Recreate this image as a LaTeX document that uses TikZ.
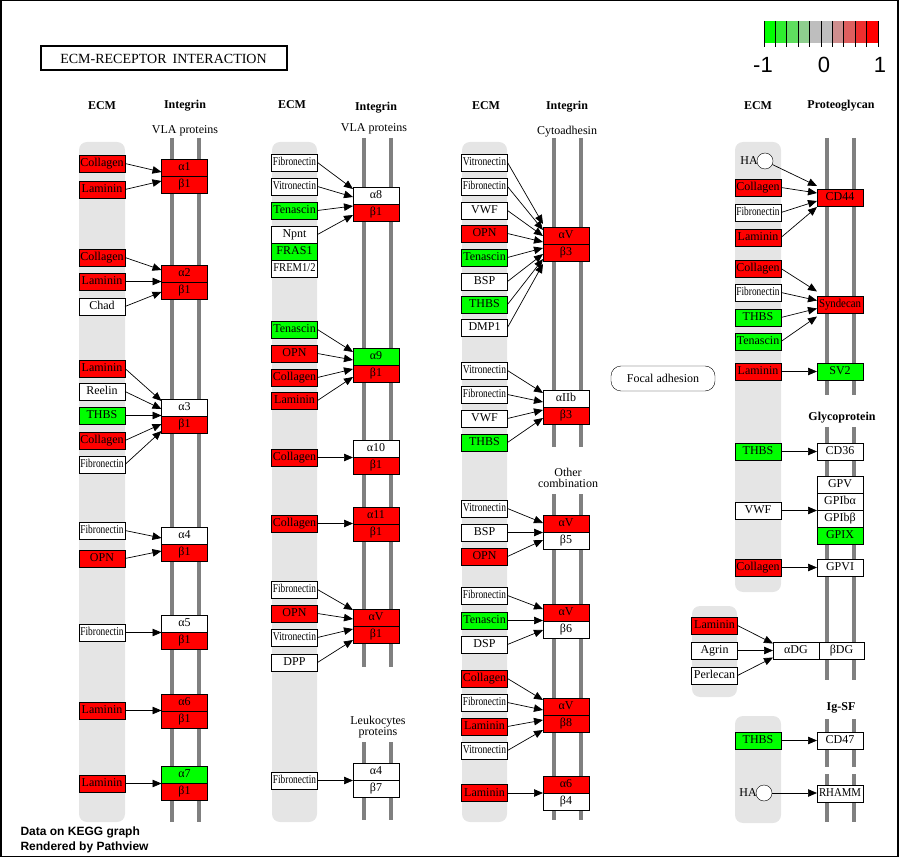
\documentclass[tikz,border=0pt]{standalone}
\usepackage{fontspec}
\setmainfont{Liberation Serif}
\setsansfont{Liberation Sans}
\usepackage{tikz}
\usetikzlibrary{arrows.meta, positioning, calc}

\definecolor{kred}{RGB}{255,0,0}
\definecolor{kgreen}{RGB}{0,255,0}
\definecolor{lanegray}{RGB}{229,229,229}
\definecolor{memgray}{RGB}{128,128,128}
\definecolor{lg1}{RGB}{0,255,0}
\definecolor{lg2}{RGB}{47,238,47}
\definecolor{lg3}{RGB}{95,222,95}
\definecolor{lg4}{RGB}{142,206,142}
\definecolor{lg5}{RGB}{190,190,190}
\definecolor{lg6}{RGB}{190,190,190}
\definecolor{lg7}{RGB}{206,142,142}
\definecolor{lg8}{RGB}{222,95,95}
\definecolor{lg9}{RGB}{238,47,47}
\definecolor{lg10}{RGB}{255,0,0}

\newcommand{\genefont}{\fontsize{12}{12}\selectfont}
\newcommand{\cond}[2][0.78]{\scalebox{#1}[1]{#2}}

\begin{document}
\begin{tikzpicture}[
        x=1pt, y=-1pt,
        gene/.style={rectangle, draw, fill=white, minimum width=46pt, minimum height=17pt,
                inner sep=0pt, outer sep=0pt, text height=8.5pt, text depth=2.5pt, font=\genefont},
        upgene/.style={gene, fill=kred},
        downgene/.style={gene, fill=kgreen},
        lane/.style={fill=lanegray, rounded corners=8pt},
        membrane/.style={draw=memgray, line width=4pt},
        arr/.style={-{Triangle[length=9pt,width=7.5pt]}, line width=0.7pt},
        hdr/.style={font=\bfseries\fontsize{12}{12}\selectfont},
        grouplabel/.style={font=\fontsize{12}{11}\selectfont, align=center},
        hacircle/.style={circle, draw, fill=white, minimum size=16pt, inner sep=0pt}
    ]
    \useasboundingbox (0,0) rectangle (900,858);
    \draw[line width=1.5pt] (0.75,0.75) rectangle (898,856.5);

    % Title and legend
    \node[draw, line width=2pt, minimum width=246pt, minimum height=24pt, inner sep=0pt,
        font=\fontsize{14}{14}\selectfont] (title) at (163.5,58.5) {ECM-RECEPTOR\hspace{6pt}INTERACTION};
    \foreach \c [count=\i from 0] in {lg1,lg2,lg3,lg4,lg5,lg6,lg7,lg8,lg9,lg10}
        \fill[\c] (764+\i*11.4,21) rectangle (775.4+\i*11.4,43);
    \foreach \i in {0,...,10}
        \draw[line width=0.8pt] (764+\i*11.4,21) -- (764+\i*11.4,47);
    \node[font=\sffamily\fontsize{22}{22}\selectfont] (lgmin) at (763,65) {-1};
    \node[font=\sffamily\fontsize{22}{22}\selectfont] (lgmid) at (824,65) {0};
    \node[font=\sffamily\fontsize{22}{22}\selectfont] (lgmax) at (880,65) {1};

    % Lanes and membranes
    \fill[lane] (79,142) rectangle (125,822);
    \fill[lane] (272,142) rectangle (317,822);
    \fill[lane] (462,142) rectangle (507,822);
    \fill[lane] (735,142) rectangle (781,592);
    \fill[lane] (692,606) rectangle (737,697);
    \fill[lane] (735,716) rectangle (781,823);
    \foreach \x in {172,199}
        \draw[membrane] (\x,138) -- (\x,822);
    \foreach \x in {364,391} {
        \draw[membrane] (\x,138) -- (\x,667);
        \draw[membrane] (\x,742) -- (\x,820);
    }
    \foreach \x in {554,581} {
        \draw[membrane] (\x,138) -- (\x,447);
        \draw[membrane] (\x,494) -- (\x,820);
    }
    \foreach \x in {827,854} {
        \draw[membrane] (\x,138) -- (\x,395);
        \draw[membrane] (\x,427) -- (\x,680);
        \draw[membrane] (\x,719) -- (\x,767);
        \draw[membrane] (\x,774) -- (\x,822);
    }

    % Headers
    \node[hdr] (ecm1) at (102,106) {ECM};
    \node[hdr] (int1) at (185,106) {Integrin};
    \node[grouplabel] (vla1) at (185,131) {VLA proteins};
    \node[hdr] (ecm2) at (292,105) {ECM};
    \node[hdr] (int2) at (376,108) {Integrin};
    \node[grouplabel] (vla2) at (374,129) {VLA proteins};
    \node[hdr] (ecm3) at (486,106) {ECM};
    \node[hdr] (int3) at (567,107) {Integrin};
    \node[grouplabel] (cyto) at (567,132) {Cytoadhesin};
    \node[grouplabel] (other) at (568,478) {Other\\combination};
    \node[grouplabel] (leuko) at (378,727) {Leukocytes\\proteins};
    \node[hdr] (ecm4) at (758,106) {ECM};
    \node[hdr] (prot) at (841,106) {Proteoglycan};
    \node[hdr] (glyco) at (842,418) {Glycoprotein};
    \node[hdr] (igsf) at (841,708) {Ig-SF};

    % Column 1
    \node[upgene] (coll1) at (102,163.5) {Collagen};
    \node[upgene] (lam1) at (102,189.5) {Laminin};
    \node[upgene] (coll2) at (102,257.5) {Collagen};
    \node[upgene] (lam2) at (102,281.5) {Laminin};
    \node[gene] (chad) at (102,306.5) {Chad};
    \node[upgene] (lam3) at (102,368.5) {Laminin};
    \node[gene] (reelin) at (102,391.5) {Reelin};
    \node[downgene] (thbs1) at (102,415.5) {THBS};
    \node[upgene] (coll3) at (102,440.5) {Collagen};
    \node[gene] (fn1) at (102,464.5) {\cond{Fibronectin}};
    \node[gene] (fn2) at (102,530.5) {\cond{Fibronectin}};
    \node[upgene] (opn1) at (102,558.5) {OPN};
    \node[gene] (fn3) at (102,632.5) {\cond{Fibronectin}};
    \node[upgene] (lam4) at (102,710.5) {Laminin};
    \node[upgene] (lam5) at (102,783.5) {Laminin};

    \node[upgene] (a1) at (184.5,167.5) {α1};
    \node[upgene, below=0pt of a1] (a1b) {β1};
    \node[upgene] (a2) at (184.5,273.5) {α2};
    \node[upgene, below=0pt of a2] (a2b) {β1};
    \node[gene] (a3) at (184.5,407.5) {α3};
    \node[upgene, below=0pt of a3] (a3b) {β1};
    \node[gene] (a4) at (184.5,535.5) {α4};
    \node[upgene, below=0pt of a4] (a4b) {β1};
    \node[gene] (a5) at (184.5,623.5) {α5};
    \node[upgene, below=0pt of a5] (a5b) {β1};
    \node[upgene] (a6) at (184.5,702.5) {α6};
    \node[upgene, below=0pt of a6] (a6b) {β1};
    \node[downgene] (a7) at (184.5,774.5) {α7};
    \node[upgene, below=0pt of a7] (a7b) {β1};

    \draw[arr] (coll1.east) -- ($(a1.south west)+(0,-4)$);
    \draw[arr] (lam1.east) -- ($(a1.south west)+(0,5)$);
    \draw[arr] (coll2.east) -- ($(a2.south west)+(0,-12)$);
    \draw[arr] (lam2.east) -- (lam2.east -| a2.west);
    \draw[arr] (chad.east) -- ($(a2.south west)+(0,10)$);
    \draw[arr] (lam3.east) -- ($(a3.south west)+(0,-15)$);
    \draw[arr] (reelin.east) -- ($(a3.south west)+(0,-7)$);
    \draw[arr] (thbs1.east) -- (thbs1.east -| a3.west);
    \draw[arr] (coll3.east) -- ($(a3.south west)+(0,8)$);
    \draw[arr] (fn1.east) -- ($(a3.south west)+(0,15)$);
    \draw[arr] (fn2.east) -- ($(a4.south west)+(0,-6)$);
    \draw[arr] (opn1.east) -- ($(a4.south west)+(0,7)$);
    \draw[arr] (fn3.east) -- (fn3.east -| a5.west);
    \draw[arr] (lam4.east) -- (lam4.east -| a6.west);
    \draw[arr] (lam5.east) -- (lam5.east -| a7.west);

    % Column 2
    \node[gene] (fn4) at (294.5,162.5) {\cond{Fibronectin}};
    \node[gene] (vn1) at (294.5,186.5) {\cond[0.8]{Vitronectin}};
    \node[downgene] (tn1) at (294.5,210.5) {Tenascin};
    \node[gene] (npnt) at (294.5,234.5) {Npnt};
    \node[downgene] (fras) at (294.5,251.5) {FRAS1};
    \node[gene] (frem) at (294.5,268.5) {\cond[0.88]{FREM1/2}};
    \node[downgene] (tn2) at (294.5,329.5) {Tenascin};
    \node[upgene] (opn2) at (294.5,353.5) {OPN};
    \node[upgene] (coll4) at (294.5,377.5) {Collagen};
    \node[upgene] (lam6) at (294.5,400.5) {Laminin};
    \node[upgene] (coll5) at (294.5,457.5) {Collagen};
    \node[upgene] (coll6) at (294.5,523.5) {Collagen};
    \node[gene] (fn5) at (294.5,589.5) {\cond{Fibronectin}};
    \node[upgene] (opn3) at (294.5,613.5) {OPN};
    \node[gene] (vn2) at (294.5,637.5) {\cond[0.8]{Vitronectin}};
    \node[gene] (dpp) at (294.5,662.5) {DPP};
    \node[gene] (fn6) at (294.5,780.5) {\cond{Fibronectin}};

    \node[gene] (a8) at (376,195.5) {α8};
    \node[upgene, below=0pt of a8] (a8b) {β1};
    \node[downgene] (a9) at (376,356.5) {α9};
    \node[upgene, below=0pt of a9] (a9b) {β1};
    \node[gene] (a10) at (376,448.5) {α10};
    \node[upgene, below=0pt of a10] (a10b) {β1};
    \node[upgene] (a11) at (376,515.5) {α11};
    \node[upgene, below=0pt of a11] (a11b) {β1};
    \node[upgene] (av1) at (376,617.5) {αV};
    \node[upgene, below=0pt of av1] (av1b) {β1};
    \node[gene] (a4l) at (376,771.5) {α4};
    \node[gene, below=0pt of a4l] (b7) {β7};

    \draw[arr] (fn4.east) -- ($(a8.south west)+(0,-15)$);
    \draw[arr] (vn1.east) -- ($(a8.south west)+(0,-7)$);
    \draw[arr] (tn1.east) -- ($(a8.south west)+(0,2)$);
    \draw[arr] (npnt.east) -- ($(a8.south west)+(0,11)$);
    \draw[arr] (tn2.east) -- ($(a9.south west)+(0,-13)$);
    \draw[arr] (opn2.east) -- ($(a9.south west)+(0,-5)$);
    \draw[arr] (coll4.east) -- ($(a9.south west)+(0,4)$);
    \draw[arr] (lam6.east) -- ($(a9.south west)+(0,12)$);
    \draw[arr] (coll5.east) -- (coll5.east -| a10.west);
    \draw[arr] (coll6.east) -- (coll6.east -| a11.west);
    \draw[arr] (fn5.east) -- ($(av1.south west)+(0,-16)$);
    \draw[arr] (opn3.east) -- ($(av1.south west)+(0,-7)$);
    \draw[arr] (vn2.east) -- ($(av1.south west)+(0,3)$);
    \draw[arr] (dpp.east) -- ($(av1.south west)+(0,14)$);
    \draw[arr] (fn6.east) -- (fn6.east -| a4l.west);

    % Column 3
    \node[gene] (vn3) at (484.5,162.5) {\cond[0.8]{Vitronectin}};
    \node[gene] (fn7) at (484.5,186.5) {\cond{Fibronectin}};
    \node[gene] (vwf1) at (484.5,210.5) {VWF};
    \node[upgene] (opn4) at (484.5,233.5) {OPN};
    \node[downgene] (tn3) at (484.5,257.5) {Tenascin};
    \node[gene] (bsp1) at (484.5,281.5) {BSP};
    \node[downgene] (thbs2) at (484.5,304.5) {THBS};
    \node[gene] (dmp) at (484.5,327.5) {DMP1};
    \node[gene] (vn4) at (484.5,370.5) {\cond[0.8]{Vitronectin}};
    \node[gene] (fn8) at (484.5,394.5) {\cond{Fibronectin}};
    \node[gene] (vwf2) at (484.5,418.5) {VWF};
    \node[downgene] (thbs3) at (484.5,442.5) {THBS};
    \node[gene] (vn5) at (484.5,508.5) {\cond[0.8]{Vitronectin}};
    \node[gene] (bsp2) at (484.5,532.5) {BSP};
    \node[upgene] (opn5) at (484.5,556.5) {OPN};
    \node[gene] (fn9) at (484.5,595.5) {\cond{Fibronectin}};
    \node[downgene] (tn4) at (484.5,620.5) {Tenascin};
    \node[gene] (dsp) at (484.5,644.5) {DSP};
    \node[upgene] (coll7) at (484.5,678.5) {Collagen};
    \node[gene] (fn10) at (484.5,702.5) {\cond{Fibronectin}};
    \node[upgene] (lam7) at (484.5,726.5) {Laminin};
    \node[gene] (vn6) at (484.5,750.5) {\cond[0.8]{Vitronectin}};
    \node[upgene] (lam8) at (484.5,793) {Laminin};

    \node[upgene] (av3) at (566,235.5) {αV};
    \node[upgene, below=0pt of av3] (b3) {β3};
    \node[gene] (aiib) at (566,398.5) {αIIb};
    \node[upgene, below=0pt of aiib] (aiibb) {β3};
    \node[upgene] (av5) at (566,523.5) {αV};
    \node[gene, below=0pt of av5] (b5) {β5};
    \node[upgene] (av6) at (566,612.5) {αV};
    \node[gene, below=0pt of av6] (b6) {β6};
    \node[upgene] (av8) at (566,706.5) {αV};
    \node[upgene, below=0pt of av8] (b8) {β8};
    \node[upgene] (a6c) at (566,784.5) {α6};
    \node[gene, below=0pt of a6c] (b4) {β4};

    \draw[arr] (vn3.east) -- ($(av3.south west)+(0,-20)$);
    \draw[arr] (fn7.east) -- ($(av3.south west)+(0,-14)$);
    \draw[arr] (vwf1.east) -- ($(av3.south west)+(0,-8)$);
    \draw[arr] (opn4.east) -- ($(av3.south west)+(0,-2)$);
    \draw[arr] (tn3.east) -- ($(av3.south west)+(0,4)$);
    \draw[arr] (bsp1.east) -- ($(av3.south west)+(0,10)$);
    \draw[arr] (thbs2.east) -- ($(av3.south west)+(0,15)$);
    \draw[arr] (dmp.east) -- ($(av3.south west)+(0,20)$);
    \draw[arr] (vn4.east) -- ($(aiib.south west)+(0,-14)$);
    \draw[arr] (fn8.east) -- ($(aiib.south west)+(0,-5)$);
    \draw[arr] (vwf2.east) -- ($(aiib.south west)+(0,3)$);
    \draw[arr] (thbs3.east) -- ($(aiib.south west)+(0,11)$);
    \draw[arr] (vn5.east) -- ($(av5.south west)+(0,-9)$);
    \draw[arr] (bsp2.east) -- (bsp2.east -| av5.west);
    \draw[arr] (opn5.east) -- ($(av5.south west)+(0,8)$);
    \draw[arr] (fn9.east) -- ($(av6.south west)+(0,-12)$);
    \draw[arr] (tn4.east) -- (tn4.east -| av6.west);
    \draw[arr] (dsp.east) -- ($(av6.south west)+(0,9)$);
    \draw[arr] (coll7.east) -- ($(av8.south west)+(0,-15)$);
    \draw[arr] (fn10.east) -- ($(av8.south west)+(0,-5)$);
    \draw[arr] (lam7.east) -- ($(av8.south west)+(0,5)$);
    \draw[arr] (vn6.east) -- ($(av8.south west)+(0,15)$);
    \draw[arr] (lam8.east) -- (lam8.east -| a6c.west);

    % Column 4
    \node[font=\genefont] (hatext1) at (749,161) {HA};
    \node[hacircle] (ha1) at (765,161) {};
    \node[upgene] (coll8) at (758,187.5) {Collagen};
    \node[gene] (fn11) at (758,212.5) {\cond{Fibronectin}};
    \node[upgene] (lam9) at (758,237.5) {Laminin};
    \node[upgene] (coll9) at (758,268.5) {Collagen};
    \node[gene] (fn12) at (758,292.5) {\cond{Fibronectin}};
    \node[downgene] (thbs4) at (758,317.5) {THBS};
    \node[downgene] (tn5) at (758,341.5) {Tenascin};
    \node[upgene] (lam10) at (758,371.5) {Laminin};
    \node[downgene] (thbs5) at (758,451.5) {THBS};
    \node[gene] (vwf3) at (758,510.5) {VWF};
    \node[upgene] (coll10) at (758,567.5) {Collagen};
    \node[upgene] (lam11) at (714.5,625.5) {Laminin};
    \node[gene] (agrin) at (714.5,650.5) {Agrin};
    \node[gene] (perlecan) at (714.5,675.5) {Perlecan};
    \node[downgene] (thbs6) at (758,740.5) {THBS};
    \node[font=\genefont] (hatext2) at (748,793) {HA};
    \node[hacircle] (ha2) at (764,793) {};

    \node[upgene] (cd44) at (840,198) {CD44};
    \node[upgene] (syndecan) at (840,304.5) {\cond[0.9]{Syndecan}};
    \node[downgene] (sv2) at (840,371.5) {SV2};
    \node[gene] (cd36) at (840,451.5) {CD36};
    \node[gene] (gpv) at (840,484.5) {GPV};
    \node[gene, below=0pt of gpv] (gpiba) {GPIbα};
    \node[gene, below=0pt of gpiba] (gpibb) {GPIbβ};
    \node[downgene, below=0pt of gpibb] (gpix) {GPIX};
    \node[gene] (gpvi) at (840,567.5) {GPVI};
    \node[gene] (adg) at (796,650.5) {αDG};
    \node[gene, right=0pt of adg, minimum width=45pt] (bdg) {βDG};
    \node[gene] (cd47) at (840,740.5) {CD47};
    \node[gene] (rhamm) at (840,793.5) {\cond[0.9]{RHAMM}};

    \node[draw, rounded corners=10pt, minimum width=104pt, minimum height=25pt, font=\genefont]
        (focal) at (663,378.5) {Focal adhesion};

    \draw[arr] (ha1) -- ($(cd44.west)+(0,-12)$);
    \draw[arr] (coll8.east) -- ($(cd44.west)+(0,-5)$);
    \draw[arr] (fn11.east) -- ($(cd44.west)+(0,3)$);
    \draw[arr] (lam9.east) -- ($(cd44.west)+(0,9)$);
    \draw[arr] (coll9.east) -- ($(syndecan.west)+(0,-13)$);
    \draw[arr] (fn12.east) -- ($(syndecan.west)+(0,-4)$);
    \draw[arr] (thbs4.east) -- ($(syndecan.west)+(0,4)$);
    \draw[arr] (tn5.east) -- ($(syndecan.west)+(0,12)$);
    \draw[arr] (lam10.east) -- (lam10.east -| sv2.west);
    \draw[arr] (thbs5.east) -- (thbs5.east -| cd36.west);
    \draw[arr] (vwf3.east) -- (vwf3.east -| gpiba.west);
    \draw[arr] (coll10.east) -- (coll10.east -| gpvi.west);
    \draw[arr] (lam11.east) -- ($(adg.west)+(0,-7)$);
    \draw[arr] (agrin.east) -- (agrin.east -| adg.west);
    \draw[arr] (perlecan.east) -- ($(adg.west)+(0,7)$);
    \draw[arr] (thbs6.east) -- (thbs6.east -| cd47.west);
    \draw[arr] (ha2) -- (ha2 -| rhamm.west);

    % Footer
    \node[anchor=base west, font=\sffamily\bfseries\fontsize{12}{12}\selectfont] (data) at (17,835) {Data on KEGG graph};
    \node[anchor=base west, font=\sffamily\bfseries\fontsize{12}{12}\selectfont] (pathview) at (17,850) {Rendered by Pathview};
\end{tikzpicture}
\end{document}
